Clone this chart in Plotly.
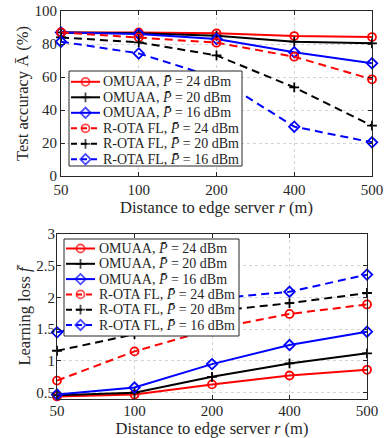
import plotly.graph_objects as go

distances = ["50", "100", "200", "400", "500"]

acc_omuaa_24 = [87.0, 87.0, 86.5, 84.8, 84.2]
acc_omuaa_20 = [87.0, 86.5, 85.0, 81.4, 80.4]
acc_omuaa_16 = [87.0, 86.0, 83.0, 75.0, 68.3]
acc_rota_24 = [87.0, 84.0, 80.8, 72.3, 58.6]
acc_rota_20 = [84.0, 81.0, 73.1, 53.7, 30.5]
acc_rota_16 = [81.4, 74.3, 59.5, 29.9, 20.4]

loss_omuaa_24 = [0.44, 0.47, 0.63, 0.77, 0.86]
loss_omuaa_20 = [0.46, 0.50, 0.75, 0.96, 1.12]
loss_omuaa_16 = [0.47, 0.58, 0.95, 1.25, 1.46]
loss_rota_24 = [0.69, 1.15, 1.50, 1.74, 1.89]
loss_rota_20 = [1.16, 1.42, 1.78, 1.91, 2.07]
loss_rota_16 = [1.45, 1.72, 1.98, 2.09, 2.36]

labels = [
    "OMUAA, <i>P̄</i> = 24 dBm",
    "OMUAA, <i>P̄</i> = 20 dBm",
    "OMUAA, <i>P̄</i> = 16 dBm",
    "R-OTA FL, <i>P̄</i> = 24 dBm",
    "R-OTA FL, <i>P̄</i> = 20 dBm",
    "R-OTA FL, <i>P̄</i> = 16 dBm",
]
colors = ["#ff0000", "#000000", "#0000ff", "#ff0000", "#000000", "#0000ff"]
symbols = ["circle-open", "cross-thin", "diamond-open"] * 2
msizes = [8, 7, 8] * 2
dashes = ["solid"] * 3 + ["8px,5px"] * 3

acc_series = [acc_omuaa_24, acc_omuaa_20, acc_omuaa_16, acc_rota_24, acc_rota_20, acc_rota_16]
loss_series = [loss_omuaa_24, loss_omuaa_20, loss_omuaa_16, loss_rota_24, loss_rota_20, loss_rota_16]

FONT = "Liberation Serif"
W, H = 384, 438
fig = go.Figure()


def marker(i):
    return dict(symbol=symbols[i], size=msizes[i], color=colors[i],
                line=dict(color=colors[i], width=1.8))


for i in range(6):
    fig.add_trace(go.Scatter(
        x=distances, y=acc_series[i], name=labels[i], mode="lines+markers",
        line=dict(color=colors[i], width=2, dash=dashes[i]), marker=marker(i),
        cliponaxis=False, xaxis="x", yaxis="y", showlegend=False,
    ))
for i in range(6):
    fig.add_trace(go.Scatter(
        x=distances, y=loss_series[i], name=labels[i], mode="lines+markers",
        line=dict(color=colors[i], width=2, dash=dashes[i]), marker=marker(i),
        cliponaxis=False, xaxis="x2", yaxis="y2", showlegend=False,
    ))

# ---- legend boxes (drawn on a full-page overlay axis in pixel units) ----
legend_boxes = [
    # (left, top, right, bottom, first row y, row step, sample x0, sample x1, text x)
    (69, 71, 242, 166, 81.8, 15.5, 71, 100, 101),
    (64, 239, 239, 336, 248.5, 15.3, 66, 95, 97),
]
annotations = []
for (l, t, r, b, y0, dy, sx0, sx1, tx) in legend_boxes:
    fig.add_trace(go.Scatter(
        x=[l, r, r, l, l], y=[t, t, b, b, t], mode="lines", fill="toself",
        fillcolor="white", line=dict(color="#262626", width=1),
        xaxis="x3", yaxis="y3", showlegend=False, hoverinfo="skip",
    ))
    for i in range(6):
        yy = y0 + dy * i
        fig.add_trace(go.Scatter(
            x=[sx0, (sx0 + sx1) / 2, sx1], y=[yy, yy, yy], mode="lines+markers",
            line=dict(color=colors[i], width=2, dash="6px,4px" if i >= 3 else "solid"),
            marker=dict(symbol=symbols[i], size=[0, msizes[i], 0], color=colors[i],
                        line=dict(color=colors[i], width=1.8)),
            xaxis="x3", yaxis="y3", showlegend=False, hoverinfo="skip",
        ))
        annotations.append(dict(
            x=tx, y=yy, xref="x3", yref="y3", text=labels[i], showarrow=False,
            xanchor="left", yanchor="middle",
            font=dict(family=FONT, size=14, color="#262626"),
        ))

axis_common = dict(
    showline=True, mirror="ticks", linecolor="#262626", linewidth=1,
    ticks="inside", ticklen=4, tickcolor="#262626", automargin=False,
    showgrid=True, gridcolor="#d4d4d4", griddash="dot", gridwidth=1,
    zeroline=False, tickfont=dict(family=FONT, size=15, color="#262626"),
)
title_font = dict(family=FONT, size=16.5, color="#262626")
xt = dict(text="Distance to edge server <i>r</i> (m)", font=title_font, standoff=3)

fig.update_layout(
    width=W, height=H,
    margin=dict(l=0, r=0, t=0, b=0, autoexpand=False),
    paper_bgcolor="white", plot_bgcolor="rgba(0,0,0,0)",
    font=dict(family=FONT, color="#262626"),
    showlegend=False,
    annotations=annotations,
    xaxis=dict(domain=[61 / W, 372 / W], anchor="y", type="category",
               categoryorder="array", categoryarray=distances, range=[0, 4],
               title=xt, ticklabelstandoff=0, **axis_common),
    yaxis=dict(domain=[1 - 176 / H, 1 - 11 / H], anchor="x", range=[0, 100],
               tickvals=[0, 20, 40, 60, 80, 100], ticklabelstandoff=0,
               title=dict(text="Test accuracy Ā (%)", font=title_font, standoff=1),
               **axis_common),
    xaxis2=dict(domain=[57 / W, 367 / W], anchor="y2", type="category",
                categoryorder="array", categoryarray=distances, range=[0, 4],
                title=xt, ticklabelstandoff=-2, **axis_common),
    yaxis2=dict(domain=[1 - 399 / H, 1 - 234 / H], anchor="x2", range=[0.4, 3],
                tickvals=[0.5, 1, 1.5, 2, 2.5, 3], ticktext=["0.5", "1", "1.5", "2", "2.5", "3"],
                ticklabelstandoff=-2,
                title=dict(text="Learning loss <i>f̄</i>", font=title_font, standoff=1),
                **axis_common),
    xaxis3=dict(domain=[0, 1], anchor="y3", range=[0, W], visible=False, fixedrange=True),
    yaxis3=dict(domain=[0, 1], anchor="x3", range=[H, 0], visible=False, fixedrange=True),
)

fig.write_html(
    "out.html",
    config={"displayModeBar": False},
    post_script="document.body.style.margin='0';document.body.style.padding='0';"
                "document.documentElement.style.overflow='hidden';",
)
